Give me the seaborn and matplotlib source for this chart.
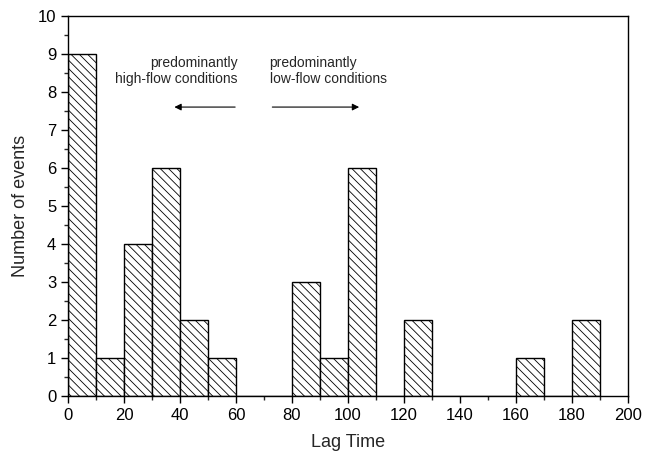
import numpy as np
import pandas as pd
import seaborn as sns
import matplotlib.pyplot as plt
from matplotlib.ticker import MultipleLocator

# histogram counts per 10-unit lag bin
bin_left = [0, 10, 20, 30, 40, 50, 60, 70, 80, 90, 100, 110, 120, 130, 140, 150, 160, 170, 180]
n_events = [9, 1, 4, 6, 2, 1, 0, 0, 3, 1, 6, 0, 2, 0, 0, 0, 1, 0, 2]

df = pd.DataFrame({"lag": np.array(bin_left) + 5, "count": n_events})

sns.set_style("ticks")
plt.rcParams['font.family'] = ['Liberation Sans', 'DejaVu Sans']
plt.rcParams['hatch.linewidth'] = 0.6
plt.rcParams['xtick.direction'] = 'out'
plt.rcParams['ytick.direction'] = 'out'

fig = plt.figure(figsize=(6.54, 4.53), dpi=100)
ax = fig.add_axes([0.104, 0.126, 0.856, 0.839])

sns.histplot(data=df, x="lag", weights="count", binwidth=10, binrange=(0, 190),
             color="white", edgecolor="black", linewidth=1.0, alpha=1,
             hatch="\\\\\\\\", ax=ax)

ax.set_xlim(0, 200)
ax.set_ylim(0, 10)
ax.xaxis.set_major_locator(MultipleLocator(20))
ax.xaxis.set_minor_locator(MultipleLocator(10))
ax.yaxis.set_major_locator(MultipleLocator(1))
ax.yaxis.set_minor_locator(MultipleLocator(0.5))
ax.tick_params(which='major', length=5, width=1, labelsize=12, colors='black')
ax.tick_params(which='minor', length=3, width=1)
for s in ax.spines.values():
    s.set_visible(True)
    s.set_linewidth(1.0)
    s.set_color('black')

ax.set_xlabel("Lag Time", fontsize=13, labelpad=8)
ax.set_ylabel("Number of events", fontsize=13, labelpad=6)

# annotations
ax.text(60.5, 8.55, "predominantly\nhigh-flow conditions", ha='right', va='center',
        fontsize=10, linespacing=1.25)
ax.text(72, 8.55, "predominantly\nlow-flow conditions", ha='left', va='center',
        fontsize=10, linespacing=1.25)
ax.annotate("", xy=(37, 7.6), xytext=(60.7, 7.6),
            arrowprops=dict(arrowstyle='-|>', color='black', lw=0.8, mutation_scale=10))
ax.annotate("", xy=(105, 7.6), xytext=(72, 7.6),
            arrowprops=dict(arrowstyle='-|>', color='black', lw=0.8, mutation_scale=10))

fig.savefig("out.png", dpi=100)
